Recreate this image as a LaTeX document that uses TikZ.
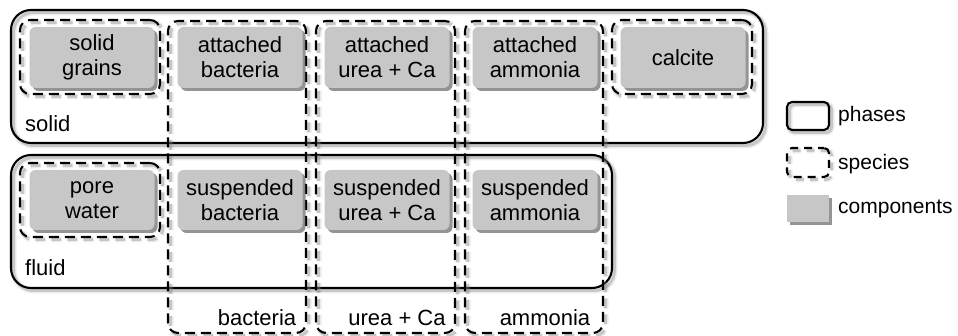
\documentclass[tikz,border=0pt]{standalone}
\usepackage{fontspec}
\setmainfont{Liberation Sans}
\usetikzlibrary{shadows}
\begin{document}
\begin{tikzpicture}[x=1pt,y=-1pt,
  every node/.style={font=\fontsize{22}{25}\selectfont, text=black},
  softshadow/.style={
    preaction={draw=black!40, line width=6pt, opacity=0.18,
      transform canvas={shift={(2.5pt,-2.5pt)}}},
    preaction={draw=black!50, line width=3pt, opacity=0.35,
      transform canvas={shift={(2.5pt,-2.5pt)}}}},
  phase/.style={draw=black, line width=2.1pt, rounded corners=20pt, rectangle, inner sep=0pt, softshadow},
  species/.style={draw=black, line width=2.1pt, dash pattern=on 10pt off 6pt, rounded corners=10pt, rectangle, inner sep=0pt, softshadow},
  comp/.style={fill=black!22, rounded corners=6pt, rectangle, inner sep=0pt, align=center,
      minimum width=125pt, minimum height=61pt,
      drop shadow={shadow xshift=3pt, shadow yshift=-3pt, opacity=0.6, fill=black!70}},
  lbl/.style={inner sep=0pt},
  leglbl/.style={inner sep=0pt, anchor=west, font=\fontsize{21}{25}\selectfont}
]
\useasboundingbox (0,0) rectangle (958,336);
% phases
\node[phase, minimum width=752pt, minimum height=133pt] (solidph) at (387,76.5) {};
\node[phase, minimum width=601pt, minimum height=133pt] (fluidph) at (311.5,221.5) {};
% species
\node[species, minimum width=140pt, minimum height=74pt] (sgS) at (90,57) {};
\node[species, minimum width=140pt, minimum height=74pt] (caS) at (682,57) {};
\node[species, minimum width=140pt, minimum height=74pt] (pwS) at (90,200) {};
\node[species, minimum width=138pt, minimum height=312pt] (bacS) at (237,177) {};
\node[species, minimum width=139pt, minimum height=312pt] (ureaS) at (385.5,177) {};
\node[species, minimum width=138pt, minimum height=312pt] (ammS) at (534,177) {};
% components
\node[comp] (sg) at (92,57.5) {solid\\grains};
\node[comp] (ab) at (240,57.5) {attached\\bacteria};
\node[comp] (au) at (387,57.5) {attached\\urea + Ca};
\node[comp] (aa) at (535,57.5) {attached\\ammonia};
\node[comp] (ca) at (683,57.5) {calcite};
\node[comp, minimum height=60pt] (pw) at (92,200) {pore\\water};
\node[comp, minimum height=60pt] (sb) at (240,200) {suspended\\bacteria};
\node[comp, minimum height=60pt] (su) at (387,200) {suspended\\urea + Ca};
\node[comp, minimum height=60pt] (sa) at (535,200) {suspended\\ammonia};
% labels
\node[lbl, anchor=west] (solidlbl) at (25,124) {solid};
\node[lbl, anchor=west] (fluidlbl) at (25,268) {fluid};
\node[lbl] (baclbl) at (257,318) {bacteria};
\node[lbl] (urealbl) at (397,318) {urea + Ca};
\node[lbl] (ammlbl) at (545,318) {ammonia};
% legend
\node[phase, rounded corners=5pt, minimum width=42pt, minimum height=28pt] (legph) at (808,116) {};
\node[species, rounded corners=5pt, dash pattern=on 8pt off 6pt, dash phase=2pt, minimum width=42pt, minimum height=29pt] (legsp) at (808,162.5) {};
\node[fill=black!22, rectangle, inner sep=0pt, minimum width=42pt, minimum height=27pt,
      drop shadow={shadow xshift=3pt, shadow yshift=-3pt, opacity=0.6, fill=black!70}] (legco) at (808,208.5) {};
\node[leglbl] (legphT) at (838,116) {phases};
\node[leglbl] (legspT) at (838,164) {species};
\node[leglbl] (legcoT) at (838,209) {components};
\end{tikzpicture}
\end{document}
